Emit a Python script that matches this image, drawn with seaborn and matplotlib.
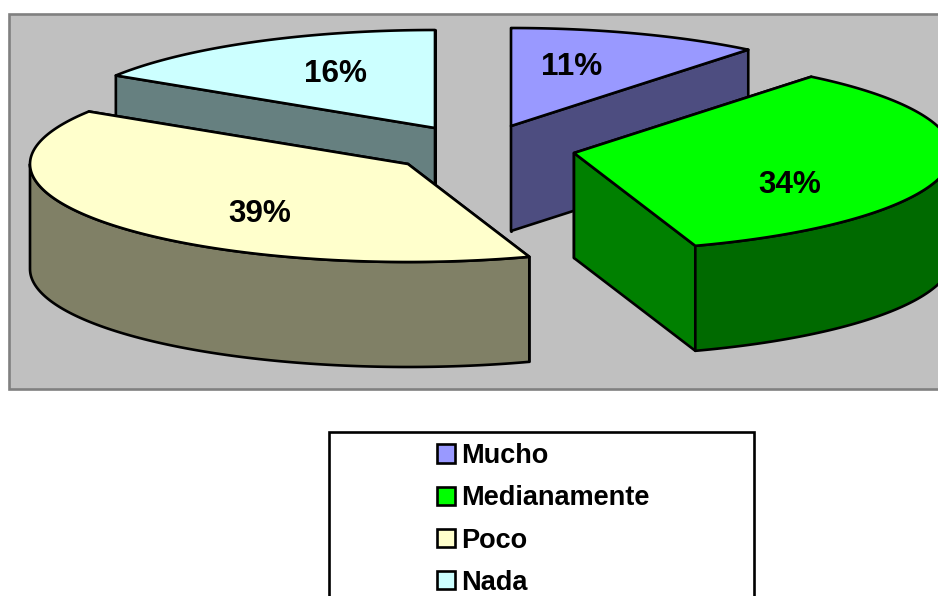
import numpy as np
import matplotlib
matplotlib.use("Agg")
import matplotlib.pyplot as plt
from matplotlib.patches import Rectangle, Patch
import seaborn as sns

# --- data ---
categories = ["Mucho", "Medianamente", "Poco", "Nada"]
values = [10.8, 34.0, 39.2, 16.0]
top_colors = ["#9999FF", "#00FF00", "#FFFFCC", "#CCFFFF"]
cut_colors = ["#4D4D80", "#008000", "#808066", "#668080"]
rim_colors = ["#4D4D80", "#006A00", "#808066", "#668080"]

# --- layout (pixels) ---
apexes = [(511, 126), (574, 153), (408, 164), (435, 128)]
label_pos = [(572, 67), (790, 185), (260, 214), (335, 74)]
RX, RY, DEPTH = 378, 98, 105
DRAW_ORDER = [3, 0, 2, 1]
LW = 1.9

sns.set_theme(style="white")
plt.rcParams["font.family"] = ["Liberation Sans", "DejaVu Sans"]
palette = sns.color_palette(top_colors)

fig = plt.figure(figsize=(9.38, 5.96), dpi=100, facecolor="white")
ax = fig.add_axes([0, 0, 1, 1])
ax.set_xlim(0, 938)
ax.set_ylim(596, 0)
ax.axis("off")

ax.add_patch(Rectangle((9, 14), 960, 374.5, facecolor="#C0C0C0",
                       edgecolor="#808080", linewidth=1.9, zorder=0))


def rim(apex, a):
    a = np.radians(a)
    return apex[0] + RX * np.sin(a), apex[1] - RY * np.cos(a)


def poly(ax, xs, ys, color, z):
    ax.fill(xs, ys, facecolor=color, edgecolor="black", linewidth=LW,
            joinstyle="round", zorder=z)


edges = np.concatenate([[0], np.cumsum(values)]) * 3.6
for z, i in enumerate(DRAW_ORDER):
    apex = apexes[i]
    a0, a1 = edges[i], edges[i + 1]
    base = 10 + z * 5
    # walls along the two cuts
    for a in (a0, a1):
        x, y = rim(apex, a)
        poly(ax, [apex[0], x, x, apex[0]],
             [apex[1], y, y + DEPTH, apex[1] + DEPTH], cut_colors[i], base)
    # outer rim, only its front-facing part is visible
    lo, hi = max(a0, 90), min(a1, 270)
    if hi > lo:
        t = np.linspace(lo, hi, 120)
        x, y = rim(apex, t)
        poly(ax, np.concatenate([x, x[::-1]]),
             np.concatenate([y, (y + DEPTH)[::-1]]), rim_colors[i], base + 1)
    # top face
    t = np.linspace(a0, a1, 160)
    x, y = rim(apex, t)
    poly(ax, np.concatenate([[apex[0]], x]), np.concatenate([[apex[1]], y]),
         palette[i], base + 2)
    ax.text(*label_pos[i], f"{values[i]:.0f}%", fontsize=22.7, fontweight="bold",
            ha="center", va="center", color="black", zorder=60)

# legend
ax.add_patch(Rectangle((328.5, 432), 425.5, 300, facecolor="white",
                       edgecolor="black", linewidth=1.9, zorder=70))
handles = [Patch(facecolor=c, edgecolor="black", linewidth=1.9) for c in palette]
leg = ax.legend(handles, categories, loc="upper left",
                bbox_to_anchor=(437, 443), bbox_transform=ax.transData,
                frameon=False, borderpad=0, borderaxespad=0,
                prop={"family": "Liberation Sans", "weight": "bold", "size": 19.5},
                labelcolor="black",
                handlelength=0.667, handleheight=0.667, handletextpad=0.22,
                labelspacing=0.60)
leg.set_zorder(80)

fig.savefig("out.png", dpi=100, facecolor="white")
